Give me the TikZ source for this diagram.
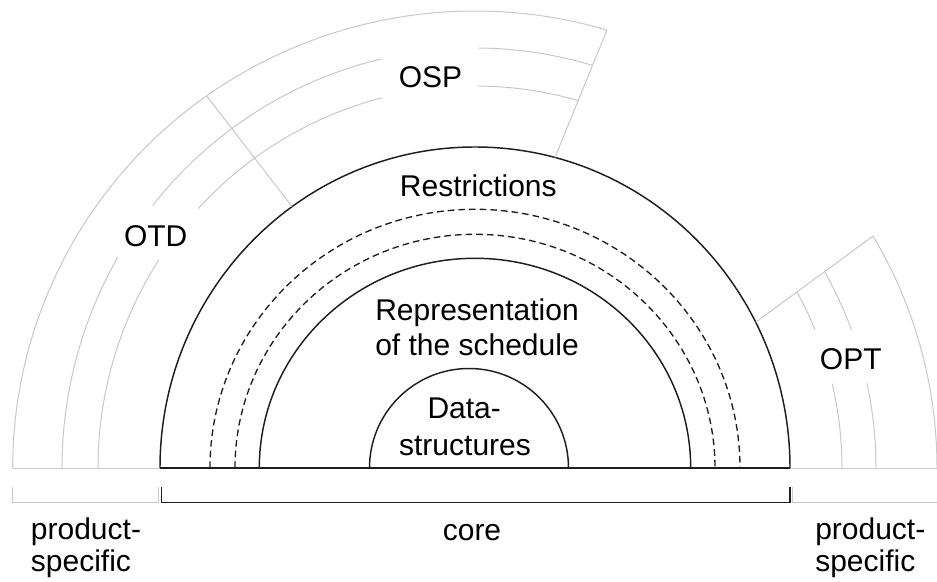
\documentclass[tikz,border=0pt]{standalone}
\usepackage{fontspec}
\setmainfont{Liberation Sans}
\definecolor{pgrey}{RGB}{200,200,200}
\definecolor{cline}{RGB}{30,30,30}
\begin{document}
\begin{tikzpicture}[x=0.75pt,y=0.75pt,
  corel/.style={line width=1.1pt, draw=cline},
  dashring/.style={line width=1pt, draw=cline, dash pattern=on 5pt off 3pt},
  prodl/.style={line width=0.75pt, draw=pgrey},
  lbl/.style={font=\fontsize{22.5}{27}\selectfont, anchor=base, inner sep=0pt},
  lblw/.style={lbl, anchor=base west}
]
\useasboundingbox (-475,-113) rectangle (462,468);

% ---------- key coordinates ----------
\coordinate (O) at (0,0);
\coordinate (ospOut) at (73.4:462 and 457);
\coordinate (ospIn)  at (75.3:315 and 321);
\coordinate (otdOut) at (125.5:462 and 457);
\coordinate (otdIn)  at (125.5:315 and 321);
\coordinate (optOut) at (30.5:462 and 457);
\coordinate (optIn)  at (27:315 and 321);

% ---------- baseline ----------
\draw[prodl] (-462.3,0) -- (-315,0);
\draw[corel] (-315,0) -- (315,0);
\draw[prodl] (315,0) -- (462,0);

% ---------- core rings ----------
\draw[corel] (-315,0) arc[start angle=180, end angle=0, x radius=315, y radius=321];
\draw[dashring] (-265,0) arc[start angle=180, end angle=0, x radius=265, y radius=258.7];
\draw[dashring] (-240,0) arc[start angle=180, end angle=0, x radius=240, y radius=233.7];
\draw[corel] (-215.7,0) arc[start angle=180, end angle=0, x radius=215.7, y radius=209.7];
\draw[corel] (-105.5,0) arc[start angle=180, end angle=0, radius=99.5];

% ---------- product-specific rings ----------
% outer ring (OTD + OSP)
\draw[prodl] (-462.3,0) arc[start angle=180, end angle=73.4, x radius=462.3, y radius=457];
\draw[prodl] (ospOut) -- (ospIn);
\draw[prodl] (otdOut) -- (otdIn);
% middle rings of OTD / OSP
\draw[prodl] (-413,0) arc[start angle=180, end angle=149.8, x radius=413, y radius=420];
\draw[prodl] (141.3:413 and 420) arc[start angle=141.3, end angle=103.1, x radius=413, y radius=420];
\draw[prodl] (89.5:413 and 420) arc[start angle=89.5, end angle=73.5, x radius=413, y radius=420];
\draw[prodl] (-377,0) arc[start angle=180, end angle=147, x radius=377, y radius=382];
\draw[prodl] (137.2:377 and 382) arc[start angle=137.2, end angle=104.3, x radius=377, y radius=382];
\draw[prodl] (89.5:377 and 382) arc[start angle=89.5, end angle=74.1, x radius=377, y radius=382];
% OPT
\draw[prodl] (optOut) arc[start angle=30.5, end angle=0, x radius=462, y radius=457];
\draw[prodl] (optOut) -- (optIn);
\draw[prodl] (28.66:367) arc[start angle=28.66, end angle=22.1, radius=367];
\draw[prodl] (13.3:367) arc[start angle=13.3, end angle=0, radius=367];
\draw[prodl] (29.3:401) arc[start angle=29.3, end angle=20.1, radius=401];
\draw[prodl] (12.2:401) arc[start angle=12.2, end angle=0, radius=401];

% ---------- brackets ----------
\draw[prodl] (-462.3,-18.7) -- (-462.3,-34.7) -- (-316.7,-34.7) -- (-316.7,-18.7);
\draw[corel] (-313.3,-18.7) -- (-313.3,-34.7) -- (315,-34.7) -- (315,-18.7);
\draw[prodl] (317.3,-18.7) -- (317.3,-34.7) -- (462,-34.7);

% ---------- labels ----------
\node[lbl] (osp) at (-44.5,380.7) {OSP};
\node[lbl] (otd) at (-319.3,221.3) {OTD};
\node[lbl] (opt) at (375.8,98) {OPT};
\node[lbl] (restr) at (3.3,271.3) {Restrictions};
\node[lbl] (repr1) at (2,147.3) {Representation};
\node[lbl] (repr2) at (2,112) {of the schedule};
\node[lbl] (data1) at (-10.8,49.7) {Data-};
\node[lbl] (data2) at (-10,13) {structures};
\node[lbl] (core) at (-3,-72) {core};
\node[lblw] (ps1a) at (-444.3,-71) {product-};
\node[lblw] (ps1b) at (-444.3,-103.7) {specific};
\node[lblw] (ps2a) at (340,-71) {product-};
\node[lblw] (ps2b) at (340,-103.7) {specific};
\end{tikzpicture}
\end{document}
